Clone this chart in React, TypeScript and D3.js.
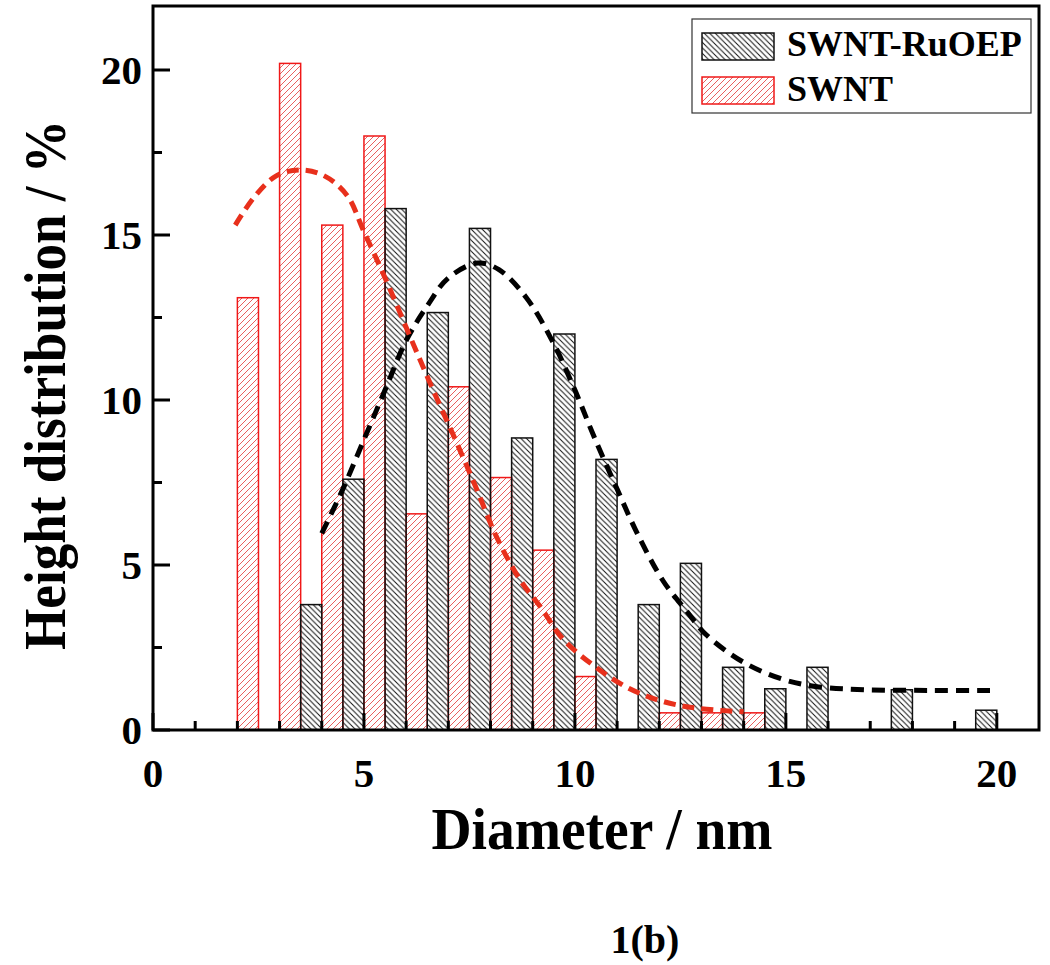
import React from "react";
import * as d3 from "d3";

// ---- data ----
const blackX = [4, 5, 6, 7, 8, 9, 10, 11, 12, 13, 14, 15, 16, 18, 20];
const blackVals = [3.8, 7.6, 15.8, 12.65, 15.2, 8.85, 12.0, 8.2, 3.8, 5.05, 1.9, 1.25, 1.9, 1.22, 0.6];
const redX = [2, 3, 4, 5, 6, 7, 8, 9, 10, 12, 13, 14];
const redVals = [13.1, 20.2, 15.3, 18.0, 6.55, 10.4, 7.65, 5.45, 1.62, 0.52, 0.52, 0.52];

// fitted curves, points
const blackFitX = [4.0, 4.5, 5.0, 5.5, 6.0, 6.5, 7.0, 7.7, 8.2, 8.85, 9.5, 10.0, 10.45, 11.0, 11.5, 12.1, 12.65, 13.1, 14.0, 14.9, 15.7, 16.9, 18.5, 20.0];
const blackFitY = [5.96, 7.3, 8.8, 10.3, 11.8, 12.85, 13.7, 14.15, 13.95, 13.1, 11.7, 10.3, 8.9, 7.3, 5.9, 4.5, 3.6, 2.9, 2.05, 1.55, 1.32, 1.22, 1.2, 1.2];
const redFitX = [1.95, 2.4, 2.93, 3.48, 4.05, 4.6, 5.0, 5.5, 6.1, 6.64, 7.2, 7.67, 8.14, 8.7, 9.2, 9.72, 10.5, 11.3, 12.1, 12.9, 14.0];
const redFitY = [15.3, 16.15, 16.8, 16.97, 16.8, 16.2, 15.1, 13.7, 11.9, 10.3, 8.7, 7.3, 5.86, 4.55, 3.7, 2.75, 1.9, 1.25, 0.86, 0.66, 0.55];

const xMajor = [0, 5, 10, 15, 20];
const yMajor = [0, 5, 10, 15, 20];
const seriesNames = ["SWNT-RuOEP", "SWNT"];

const FONT = '"Liberation Serif", "Times New Roman", serif';

export default function App() {
  const left = 153, right = 1039, top = 6, bottom = 730;
  const x = d3.scaleLinear().domain([0, 21]).range([left, right]);
  const y = d3.scaleLinear().domain([0, 22]).range([bottom, 4]);
  const bw = x(0.5) - x(0);

  const line = d3
    .line<[number, number]>()
    .x((d) => x(d[0]))
    .y((d) => y(d[1]))
    .curve(d3.curveCatmullRom.alpha(0.5));

  const blackPts = blackFitX.map((v, i) => [v, blackFitY[i]] as [number, number]);
  const redPts = redFitX.map((v, i) => [v, redFitY[i]] as [number, number]);

  const xMinor = d3.range(1, 21).filter((v) => v % 5 !== 0);
  const yMinor = d3.range(2.5, 22, 5);

  return (
    <svg
      width={1050}
      height={965}
      style={{ position: "absolute", left: 0, top: 0, background: "#fff" }}
      fontFamily={FONT}
    >
      <defs>
        <pattern id="hatchBlack" patternUnits="userSpaceOnUse" width={5.5} height={5.5}>
          <path d="M0,0 L5.5,5.5 M-1,4.5 L1,6.5 M4.5,-1 L6.5,1" stroke="#111" strokeWidth={1} />
        </pattern>
        <pattern id="hatchRed" patternUnits="userSpaceOnUse" width={6} height={6}>
          <path d="M0,6 L6,0 M-1,1 L1,-1 M5,7 L7,5" stroke="#e86060" strokeWidth={1} />
        </pattern>
      </defs>
      <rect x={0} y={0} width={1050} height={965} fill="#fff" />

      {/* red bars */}
      {redX.map((v, i) => (
        <rect
          key={"r" + i}
          x={x(v)}
          y={y(redVals[i])}
          width={bw}
          height={y(0) - y(redVals[i])}
          fill="url(#hatchRed)"
          stroke="#f01818"
          strokeWidth={1.5}
        />
      ))}
      {/* black bars */}
      {blackX.map((v, i) => (
        <rect
          key={"b" + i}
          x={x(v - 0.5)}
          y={y(blackVals[i])}
          width={bw}
          height={y(0) - y(blackVals[i])}
          fill="url(#hatchBlack)"
          stroke="#111"
          strokeWidth={1.5}
        />
      ))}

      {/* fit curves */}
      <path d={line(blackPts) || ""} fill="none" stroke="#000" strokeWidth={5} strokeDasharray="13 8" />
      <path d={line(redPts) || ""} fill="none" stroke="#e8301c" strokeWidth={5} strokeDasharray="12 7" />

      {/* frame */}
      <rect x={left} y={top} width={right - left} height={bottom - top} fill="none" stroke="#000" strokeWidth={3} />

      {/* x ticks */}
      {xMajor.map((v) => (
        <line key={"xM" + v} x1={x(v)} x2={x(v)} y1={bottom} y2={bottom - 17} stroke="#000" strokeWidth={3} />
      ))}
      {xMinor.map((v) => (
        <line key={"xm" + v} x1={x(v)} x2={x(v)} y1={bottom} y2={bottom - 9} stroke="#000" strokeWidth={3} />
      ))}
      {xMajor.map((v) => (
        <text key={"xl" + v} x={x(v)} y={787} textAnchor="middle" fontSize={41} fontWeight="bold">
          {v}
        </text>
      ))}

      {/* y ticks */}
      {yMajor.map((v) => (
        <line key={"yM" + v} x1={left} x2={left + 17} y1={y(v)} y2={y(v)} stroke="#000" strokeWidth={3} />
      ))}
      {yMinor.map((v) => (
        <line key={"ym" + v} x1={left} x2={left + 9} y1={y(v)} y2={y(v)} stroke="#000" strokeWidth={3} />
      ))}
      {yMajor.map((v) => (
        <text key={"yl" + v} x={142} y={y(v) + 14} textAnchor="end" fontSize={41} fontWeight="bold">
          {v}
        </text>
      ))}

      {/* axis titles */}
      <text
        x={602}
        y={849}
        textAnchor="middle"
        fontSize={60}
        fontWeight="bold"
        textLength={341}
        lengthAdjust="spacingAndGlyphs"
      >
        Diameter / nm
      </text>
      <text
        transform={`translate(65, 385) rotate(-90)`}
        textAnchor="middle"
        fontSize={60}
        fontWeight="bold"
        textLength={530}
        lengthAdjust="spacingAndGlyphs"
      >
        Height distribution / %
      </text>

      {/* legend */}
      <rect x={692} y={19} width={339} height={94} fill="#fff" stroke="#333" strokeWidth={1.2} />
      <rect x={702} y={33} width={72} height={27} fill="url(#hatchBlack)" stroke="#111" strokeWidth={1.5} />
      <text x={787} y={56} fontSize={36} fontWeight="bold">
        {seriesNames[0]}
      </text>
      <rect x={702} y={77} width={72} height={27} fill="url(#hatchRed)" stroke="#f01818" strokeWidth={1.5} />
      <text x={787} y={101} fontSize={36} fontWeight="bold">
        {seriesNames[1]}
      </text>

      {/* caption */}
      <text x={645} y={953} textAnchor="middle" fontSize={40} fontWeight="bold">
        1(b)
      </text>
    </svg>
  );
}
